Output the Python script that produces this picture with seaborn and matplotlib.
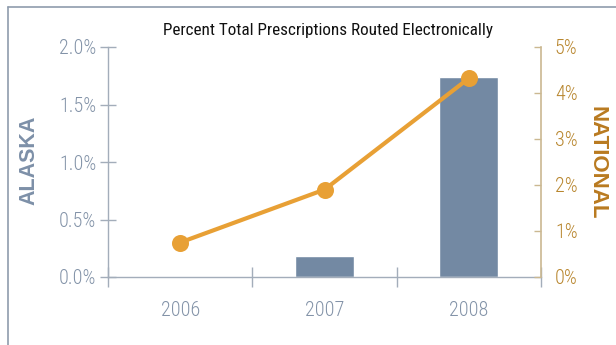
import matplotlib
matplotlib.use("Agg")
import matplotlib.pyplot as plt
import seaborn as sns
import pandas as pd
from matplotlib.ticker import FuncFormatter, FixedLocator

years = ["2006", "2007", "2008"]
alaska = [0.0, 0.18, 1.74]
national = [0.75, 1.9, 4.32]
left_ticks = [0.0, 0.5, 1.0, 1.5, 2.0]
right_ticks = [0, 1, 2, 3, 4, 5]

df = pd.DataFrame({"year": years, "alaska": alaska, "national": national})

sns.set_style("white")
plt.rcParams['font.family'] = ['Roboto Condensed', 'DejaVu Sans']

fig = plt.figure(figsize=(6.16, 3.45), dpi=100)
ax = fig.add_axes([108/616, 1-277/345, (541-108)/616, (277-47)/345])

sns.barplot(data=df, x="year", y="alaska", color="#7389a3", saturation=1,
            width=0.41, ax=ax)
ax.set_xlim(-0.5, 2.5)
ax.set_ylim(0, 2.0)

grey = "#a3adba"
lab_blue = "#8393a8"
for s in ["top", "right"]:
    ax.spines[s].set_visible(False)
ax.spines["left"].set_color(grey)
ax.spines["bottom"].set_color(grey)
ax.spines["left"].set_linewidth(1.0)
ax.spines["bottom"].set_linewidth(1.0)

ax.yaxis.set_major_locator(FixedLocator(left_ticks))
ax.yaxis.set_major_formatter(FuncFormatter(lambda v, p: f"{v:.1f}%"))
ax.tick_params(axis="y", direction="inout", length=11, width=1, color=grey,
               labelsize=14.5, labelcolor=lab_blue, pad=3, left=True)
ax.set_xticks([0, 1, 2])
ax.set_xticklabels(years)
ax.set_xticks([-0.5, 0.5, 1.5, 2.5], minor=True)
ax.tick_params(axis="x", which="major", length=0, labelsize=14.5,
               labelcolor=lab_blue, pad=17)
ax.tick_params(axis="x", which="minor", direction="inout", length=15,
               width=1, color=grey, bottom=True)
for lab in ax.get_yticklabels() + ax.get_xticklabels():
    lab.set_fontweight("light")
ax.set_xlabel("")
ax.set_ylabel("")

ax2 = ax.twinx()
sns.pointplot(data=df, x="year", y="national", color="#e8a035",
              markersize=10, linewidth=3, ax=ax2)
ax2.set_xlim(-0.5, 2.5)
ax2.set_ylim(0, 5)
tan = "#cbb891"
for s in ["top", "left", "bottom"]:
    ax2.spines[s].set_visible(False)
ax2.spines["right"].set_visible(True)
ax2.spines["right"].set_color(tan)
ax2.spines["right"].set_linewidth(1.2)
ax2.yaxis.set_major_locator(FixedLocator(right_ticks))
ax2.yaxis.set_major_formatter(FuncFormatter(lambda v, p: f"{v:.0f}%"))
ax2.tick_params(axis="y", direction="in", length=5, width=1, color=tan,
                labelsize=14.5, labelcolor="#b8862e", pad=10, right=True)
for lab in ax2.get_yticklabels():
    lab.set_fontweight("light")
ax2.set_ylabel("")
ax2.set_xlabel("")

fig.text(328/616, 1-31/345, "Percent Total Prescriptions Routed Electronically",
         ha="center", va="center", fontsize=12.3, fontweight="normal",
         color="#111111")
fig.text(29/616, 1-160/345, "ALASKA", rotation=90, ha="center", va="center",
         fontsize=15.5, fontweight="bold", color="#7d90a8",
         family=["Liberation Sans", "DejaVu Sans"])
fig.text(597/616, 1-163/345, "NATIONAL", rotation=270, ha="center", va="center",
         fontsize=16, fontweight="bold", color="#b97a20",
         family=["Liberation Sans", "DejaVu Sans"])

# frame (left and top edges visible)
fig.add_artist(plt.Line2D([8/616, 8/616], [0, 1-7/345], transform=fig.transFigure,
                          color="#8f9cad", lw=1.2))
fig.add_artist(plt.Line2D([8/616, 1], [1-7/345, 1-7/345], transform=fig.transFigure,
                          color="#8f9cad", lw=1.2))

fig.savefig("out.png", dpi=100)
